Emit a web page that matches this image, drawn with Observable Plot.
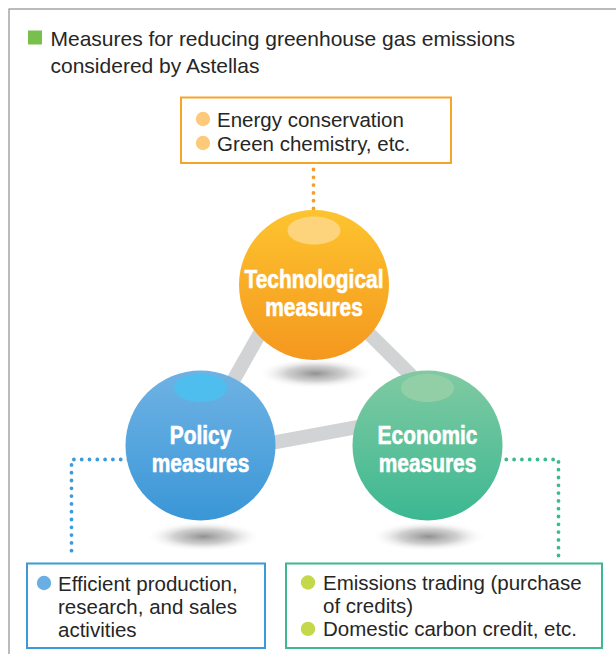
<!DOCTYPE html>
<html>
<head>
<meta charset="utf-8">
<script src="https://cdn.jsdelivr.net/npm/d3@7"></script>
<script src="https://cdn.jsdelivr.net/npm/@observablehq/plot@0.6"></script>
<style>
  body { margin: 0; background: #fff; }
  #chart svg { display: block; }
</style>
</head>
<body>
<div id="chart"></div>
<script>
// ---------- DATA (text content) ----------
const titleLines = ["Measures for reducing greenhouse gas emissions", "considered by Astellas"];
const measureKeys = ["tech", "policy", "econ"];
const measureNames = ["Technological", "Policy", "Economic"];
const measureSecondLine = ["measures", "measures", "measures"];
const techItems = [["Energy conservation"], ["Green chemistry, etc."]];
const policyItems = [["Efficient production,", "research, and sales", "activities"]];
const econItems = [["Emissions trading (purchase", "of credits)"], ["Domestic carbon credit, etc."]];
const links = [["tech", "policy"], ["tech", "econ"], ["policy", "econ"]];

// ---------- LAYOUT (diagram geometry, pixels) ----------
const W = 616, H = 654;
const nodeLayout = {
  tech:   {cx: 313.5, cy: 284.5, hlY: 230,   shY: 373, shX: 315, labelY: 287.5},
  policy: {cx: 200,   cy: 445,   hlY: 387.5, shY: 536, shX: 203, labelY: 443.5},
  econ:   {cx: 427,   cy: 445,   hlY: 387.5, shY: 536, shX: 428, labelY: 443.5}
};
const linkEnds = {
  "tech-policy": [287, 284, 196, 445],
  "tech-econ":   [319, 284, 441, 405],
  "policy-econ": [200, 455.5, 427, 413.7]
};
const boxLayout = {
  tech:   {x1: 181, y1: 97.5,  x2: 451, y2: 163, bx: 202.5, tx: 216.5, y0: 126,   lh: 24},
  policy: {x1: 27,  y1: 563.5, x2: 265, y2: 648, bx: 43.5,  tx: 57.5,  y0: 590,   lh: 23.2},
  econ:   {x1: 286, y1: 563.5, x2: 602, y2: 648, bx: 307.5, tx: 322.5, y0: 589.5, lh: 23.2}
};
const connectorPaths = {
  tech:   [[313, 169], [313, 212]],
  policy: [[128, 459], [71, 459], [71, 558]],
  econ:   [[498, 459], [558, 459], [558, 562]]
};
const framePath = [[8.5, H], [8.5, 8.5], [W + 2, 8.5]];

// ---------- STYLES ----------
const colors = {
  tech:   {grad: ["#fdc42f", "#f9ad26", "#f4981f"], hl: "#fdd57f", bullet: "#fdc97b", box: "#f7a42b", dot: "#f59e2c"},
  policy: {grad: ["#6fb2e3", "#55a5de", "#3a96d6"], hl: "#4cbfee", bullet: "#6aaee3", box: "#3d9ad8", dot: "#3e9bd9"},
  econ:   {grad: ["#80caa2", "#5ec19a", "#3bb891"], hl: "#93d0a7", bullet: "#c4d84a", box: "#3db88f", dot: "#3cba8f"}
};
const textColor = "#262626";
const bodyFont = "'Liberation Sans', Arial, Helvetica, sans-serif";
const labelScaleX = 0.82;

// ellipse symbol factory for Plot.dot
function ellipseSymbol(aspect) {
  return {
    draw(ctx, size) {
      const rx = Math.sqrt(size / Math.PI), ry = rx * aspect, k = 0.5523;
      ctx.moveTo(rx, 0);
      ctx.bezierCurveTo(rx, ry * k, rx * k, ry, 0, ry);
      ctx.bezierCurveTo(-rx * k, ry, -rx, ry * k, -rx, 0);
      ctx.bezierCurveTo(-rx, -ry * k, -rx * k, -ry, 0, -ry);
      ctx.bezierCurveTo(rx * k, -ry, rx, -ry * k, rx, 0);
      ctx.closePath();
    }
  };
}

// ---------- build tables ----------
const nodes = measureKeys.map((k, i) => ({key: k, name: measureNames[i], second: measureSecondLine[i], ...nodeLayout[k]}));
const linkRows = links.map(([a, b]) => {
  const e = linkEnds[`${a}-${b}`];
  return {x1: e[0], y1: e[1], x2: e[2], y2: e[3]};
});
const labelRows = nodes.flatMap(n => [
  {x: n.cx, y: n.labelY, text: n.name},
  {x: n.cx, y: n.labelY + 28, text: n.second}
]);
const itemSets = {tech: techItems, policy: policyItems, econ: econItems};
const boxRows = measureKeys.map(k => ({key: k, ...boxLayout[k]}));
const bulletRows = [], itemTextRows = [];
for (const k of measureKeys) {
  const b = boxLayout[k];
  let line = 0;
  for (const item of itemSets[k]) {
    bulletRows.push({key: k, x: b.bx, y: b.y0 + line * b.lh - 7.5});
    for (const t of item) {
      itemTextRows.push({key: k, x: b.tx, y: b.y0 + line * b.lh, text: t});
      line++;
    }
  }
}
const connectorRows = measureKeys.flatMap(k => connectorPaths[k].map(([x, y]) => ({key: k, x, y})));
const frameRows = framePath.map(([x, y]) => ({x, y}));
const titleRows = titleLines.map((t, i) => ({x: 50, y: 45.8 + i * 27, text: t}));

const marks = [
  Plot.line(frameRows, {x: "x", y: "y", stroke: "#a5a5a5", strokeWidth: 1.5}),
  Plot.rect([{x1: 28, x2: 42, y1: 30.5, y2: 44.5}], {x1: "x1", x2: "x2", y1: "y1", y2: "y2", fill: "#78c04c"}),
  Plot.text(titleRows, {x: "x", y: "y", text: "text", textAnchor: "start", lineAnchor: "bottom", fontSize: 21, fontFamily: bodyFont, fill: textColor}),
  // connectors (dotted)
  ...measureKeys.map(k => Plot.line(connectorRows.filter(d => d.key === k), {
    x: "x", y: "y", stroke: colors[k].dot, strokeWidth: 3.8, strokeLinecap: "round", strokeDasharray: "0 7.8"
  })),
  // gray link bars
  Plot.link(linkRows, {x1: "x1", y1: "y1", x2: "x2", y2: "y2", stroke: "#d1d3d4", strokeWidth: 14, strokeLinecap: "butt"}),
  // shadows
  Plot.dot(nodes, {x: "shX", y: "shY", r: 58, symbol: ellipseSymbol(0.26), fill: "url(#shadowGrad)"}),
  // spheres
  ...nodes.map(n => Plot.dot([n], {x: "cx", y: "cy", r: 75, fill: `url(#grad-${n.key})`})),
  // highlights
  ...nodes.map(n => Plot.dot([n], {x: "cx", y: "hlY", r: 26.5, symbol: ellipseSymbol(14 / 26.5), fill: colors[n.key].hl, fillOpacity: 0.95})),
  // sphere labels
  Plot.text(labelRows, {x: "x", y: "y", text: "text", lineAnchor: "bottom", fontSize: 25.5, fontWeight: "bold", fontFamily: bodyFont, fill: "white", stroke: "white", strokeWidth: 0.6}),
  // boxes
  ...boxRows.map(b => Plot.rect([b], {x1: "x1", x2: "x2", y1: "y1", y2: "y2", fill: "white", stroke: colors[b.key].box, strokeWidth: 2})),
  // bullets
  ...measureKeys.map(k => Plot.dot(bulletRows.filter(d => d.key === k), {x: "x", y: "y", r: 7.2, fill: colors[k].bullet})),
  // item texts
  Plot.text(itemTextRows, {x: "x", y: "y", text: "text", textAnchor: "start", lineAnchor: "bottom", fontSize: 20.5, fontFamily: bodyFont, fill: textColor})
];

const chart = Plot.plot({
  width: W, height: H, margin: 0,
  x: {domain: [0, W], range: [0, W], axis: null},
  y: {domain: [0, H], range: [0, H], axis: null},
  style: {background: "white"},
  marks
});

// gradient definitions
const svgEl = chart.tagName.toLowerCase() === "svg" ? chart : chart.querySelector("svg");
const svg = d3.select(svgEl);
const defs = svg.insert("defs", ":first-child");
for (const k of measureKeys) {
  const g = defs.append("linearGradient").attr("id", `grad-${k}`).attr("x1", 0).attr("y1", 0).attr("x2", 0).attr("y2", 1);
  colors[k].grad.forEach((c, i, arr) => g.append("stop").attr("offset", i / (arr.length - 1)).attr("stop-color", c));
}
const sg = defs.append("radialGradient").attr("id", "shadowGrad");
[[0, "#858585", 0.9], [0.5, "#a0a0a0", 0.5], [1, "#ffffff", 0]].forEach(([o, c, op]) =>
  sg.append("stop").attr("offset", o).attr("stop-color", c).attr("stop-opacity", op));

// condensed look for sphere labels (no condensed font installed): horizontal squeeze about each anchor
const labelTexts = new Set(labelRows.map(d => d.text));
svgEl.querySelectorAll("text").forEach(el => {
  const g = el.closest("g");
  const isWhite = (g && g.getAttribute("fill") === "white") || el.getAttribute("fill") === "white";
  if (!isWhite || !labelTexts.has(el.textContent)) return;
  const t = el.getAttribute("transform");
  if (t) {
    el.setAttribute("transform", `${t} scale(${labelScaleX},1)`);
  } else {
    const x = +el.getAttribute("x") || 0, y = +el.getAttribute("y") || 0;
    el.setAttribute("transform", `translate(${x},${y}) scale(${labelScaleX},1) translate(${-x},${-y})`);
  }
});

document.getElementById("chart").appendChild(chart);
</script>
</body>
</html>
